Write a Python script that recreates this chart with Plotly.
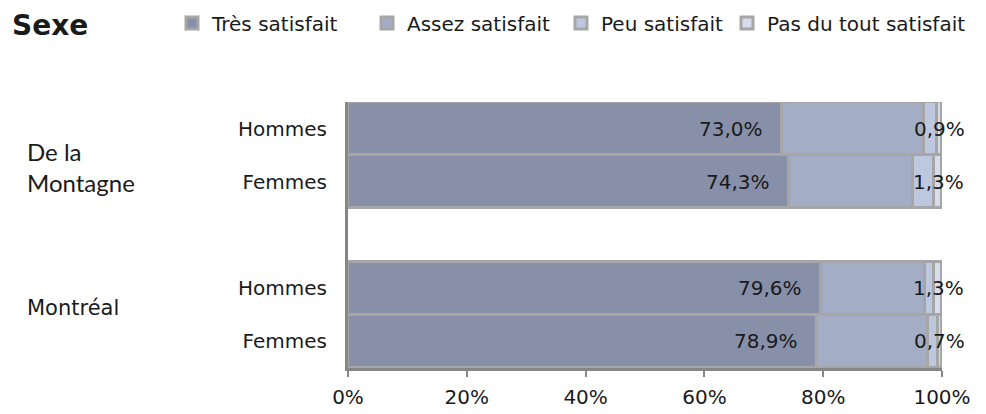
"""
Satisfaction par sexe - De la Montagne vs Montréal (stacked horizontal bars).
"""

import plotly.graph_objects as go

# Data (percent)
groups = ['De la Montagne', 'De la Montagne', 'Montréal', 'Montréal']
sexes = ['Hommes', 'Femmes', 'Hommes', 'Femmes']
levels = ['Très satisfait', 'Assez satisfait', 'Peu satisfait', 'Pas du tout satisfait']
tres = [73.0, 74.3, 79.6, 78.9]
assez = [23.9, 20.8, 17.5, 18.7]
peu = [2.2, 3.6, 1.6, 1.7]
pas = [0.9, 1.3, 1.3, 0.7]
tick_vals = [0, 20, 40, 60, 80, 100]
tick_text = ['0%', '20%', '40%', '60%', '80%', '100%']

COLORS = ['#878FA9', '#A3AEC6', '#BDC8E0', '#D6DCEA']
BORDER = '#A6A6A6'
AXIS = '#868686'
FONT = 'DejaVu Sans, Verdana, sans-serif'

# page body has an 8px margin, so the figure is drawn 8px smaller
W, H = 978, 406
L, R, T, B = 340, 44, 94, 46
PW = W - L - R

# one single-entry legend per level so each key sits where the original has it
LEGEND_X = [164, 359, 553, 719]   # px, left edge of each legend
LEGEND_Y = 15                     # px from the top, centre line


def fmt(v):
    return ('%.1f' % v).replace('.', ',') + '%'


def px_to_paper(x):
    return (x - L) / PW


# unique category keys per row, with an empty row between the two groups
keys = [g + '|' + s for g, s in zip(groups, sexes)]
cat_order = keys[:2] + [' '] + keys[2:]

fig = go.Figure()
legend_ids = ['legend', 'legend2', 'legend3', 'legend4']
for name, vals, color, lid in zip(levels, [tres, assez, peu, pas], COLORS, legend_ids):
    fig.add_trace(go.Bar(
        y=keys, x=vals, name=name, orientation='h', legend=lid, showlegend=True,
        marker=dict(color=color, line=dict(color=BORDER, width=3)),
        hoverinfo='skip',
    ))

# data labels: "Très satisfait" at the inside end, "Pas du tout" at the bar end
for k, t, a, p, q in zip(keys, tres, assez, peu, pas):
    fig.add_annotation(x=t, y=k, text=fmt(t), showarrow=False, xanchor='right',
                       xshift=-17, font=dict(size=20, color='#1a1a1a', family=FONT))
    fig.add_annotation(x=t + a + p + q / 2, y=k, text=fmt(q), showarrow=False,
                       xanchor='center', font=dict(size=20, color='#1a1a1a', family=FONT))

# group labels on the left
fig.add_annotation(x=px_to_paper(17), xref='paper', y=0.72, yref='y', text='De la<br>Montagne',
                   showarrow=False, xanchor='left', align='left',
                   font=dict(size=24, color='#1a1a1a', family='Lato, Liberation Sans, sans-serif'))
fig.add_annotation(x=px_to_paper(17), xref='paper', y=3.37, yref='y', text='Montréal',
                   showarrow=False, xanchor='left', align='left',
                   font=dict(size=21, color='#1a1a1a', family=FONT))

# chart title as an annotation in the top-left corner
fig.add_annotation(x=2 / W, xref='paper', y=1 - 17 / H, yref='paper', text='<b>Sexe</b>',
                   showarrow=False, xanchor='left', yanchor='middle',
                   font=dict(size=28, color='#1a1a1a', family=FONT))
fig.layout.annotations[-1].update(xref='container' if False else 'paper')

fig.update_layout(
    width=W, height=H,
    showlegend=True,
    barmode='stack', bargap=0,
    plot_bgcolor='white', paper_bgcolor='white',
    margin=dict(l=L, r=R, t=T, b=B, autoexpand=False),
    font=dict(family=FONT, size=20, color='#1a1a1a'),
)

# annotation in paper coords -> convert the title's pixel position
title_ann = fig.layout.annotations[-1]
title_ann.x = (2 - L) / PW
title_ann.y = (H - B - 17) / (H - T - B)

for lid, lx in zip(legend_ids, LEGEND_X):
    fig.update_layout({lid: dict(
        orientation='h', xref='container', yref='container',
        x=lx / W, xanchor='left', y=1 - LEGEND_Y / H, yanchor='middle',
        font=dict(size=20), itemwidth=30, bgcolor='rgba(0,0,0,0)',
    )})

fig.update_xaxes(range=[0, 100], tickvals=tick_vals, ticktext=tick_text, showgrid=False,
                 showline=True, linecolor=AXIS, linewidth=3, automargin=False,
                 ticks='outside', ticklen=6, tickwidth=2, tickcolor=AXIS, zeroline=False,
                 ticklabelstandoff=3)
fig.update_yaxes(type='category', categoryorder='array', categoryarray=cat_order,
                 tickvals=keys, ticktext=sexes, autorange='reversed', automargin=False,
                 showgrid=False, showline=True, linecolor=AXIS, linewidth=3,
                 ticks='', ticklabelstandoff=14)

fig.write_html("out.html")
